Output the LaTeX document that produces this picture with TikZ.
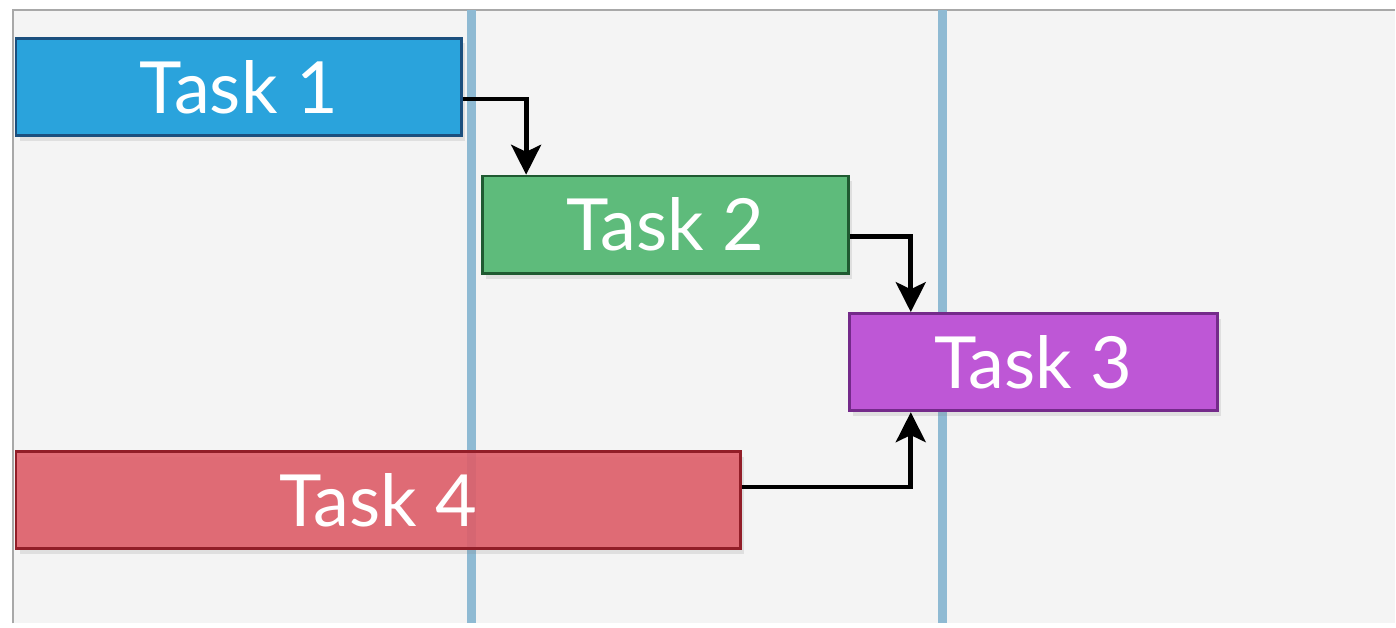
\documentclass[tikz,border=0pt]{standalone}
\usepackage{fontspec}
\setmainfont{Lato}
\usetikzlibrary{arrows.meta,calc,shadows}

\definecolor{pageback}{HTML}{F4F4F4}
\definecolor{frameline}{HTML}{A8A8A8}
\definecolor{gridline}{HTML}{8FBAD3}
\definecolor{taskblue}{HTML}{2AA3DC}
\definecolor{taskbluedark}{HTML}{1B4F7E}
\definecolor{taskgreen}{HTML}{5EBB7B}
\definecolor{taskgreendark}{HTML}{1F5A31}
\definecolor{taskpurple}{HTML}{BE57D6}
\definecolor{taskpurpledark}{HTML}{742A8A}
\definecolor{taskred}{HTML}{DF5F6A}
\definecolor{taskreddark}{HTML}{921E28}

\begin{document}
\begin{tikzpicture}[x=0.02cm, y=-0.02cm,
    task/.style={rectangle, draw, line width=1.6pt, inner sep=0pt,
      minimum height=1.95cm, text=white,
      font=\fontsize{41}{46}\selectfont,
      drop shadow={opacity=0.18, shadow xshift=2pt, shadow yshift=-3pt}},
    dep/.style={line width=2.7pt, -{Stealth[length=17pt, width=17pt, inset=4pt]}},
    grid/.style={gridline, line width=5pt}]

    % page and frame
    \fill[white] (0,0) rectangle (1396,624);
    \fill[pageback] (13,10) rectangle (1396,624);
    \draw[frameline, line width=1.5pt] (13,624) -- (13,10) -- (1396,10);

    % period boundaries
    \coordinate (p1top) at (472,10);
    \coordinate (p1bot) at (472,624);
    \coordinate (p2top) at (943,10);
    \coordinate (p2bot) at (943,624);
    \draw[grid] (p1top) -- (p1bot);
    \draw[grid] (p2top) -- (p2bot);

    % tasks
    \node [task, fill=taskblue, draw=taskbluedark, minimum width=8.92cm]
      (task1) at (239,87) {Task 1};
    \node [task, fill=taskgreen, draw=taskgreendark, minimum width=7.32cm]
      (task2) at (666,225) {Task 2};
    \node [task, fill=taskpurple, draw=taskpurpledark, minimum width=7.38cm]
      (task3) at (1034.5,362.5) {Task 3};
    \node [task, fill=taskred, fill opacity=0.9, text opacity=1,
      draw=taskreddark, minimum width=14.5cm]
      (task4) at (378.5,500.5) {Task 4};

    % dependencies
    \draw [dep] ($(task1.east)+(0,12)$) -| ($(task2.north west)+(45,0)$);
    \draw [dep] ($(task2.east)+(0,12)$) -| ($(task3.north west)+(63,0)$);
    \draw [dep] ($(task4.east)+(0,-13)$) -| ($(task3.south west)+(63,0)$);
\end{tikzpicture}
\end{document}
